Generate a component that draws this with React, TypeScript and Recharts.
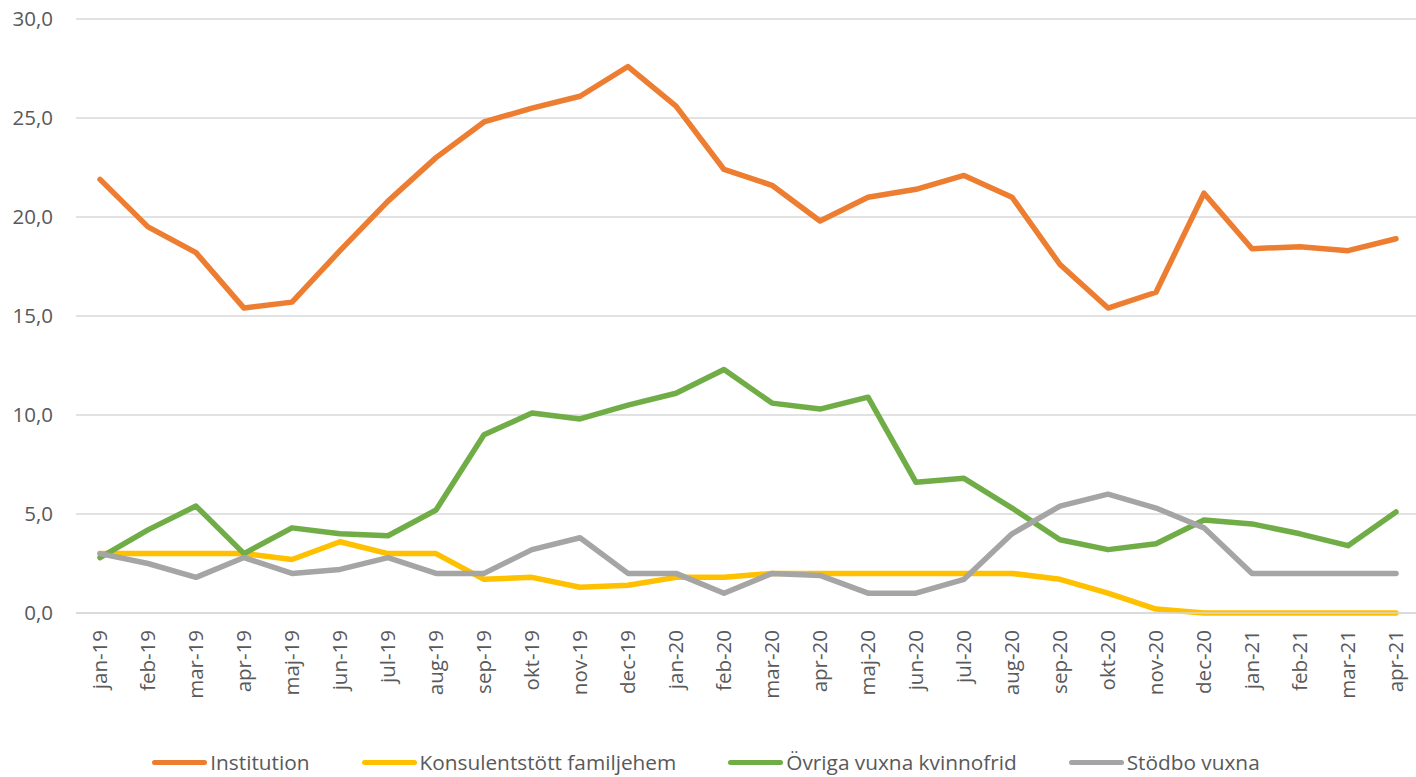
import React from 'react';
import { CartesianGrid, Legend, Line, LineChart, XAxis, YAxis } from 'recharts';

// månader jan-19 .. apr-21
const months = [
  'jan-19', 'feb-19', 'mar-19', 'apr-19', 'maj-19', 'jun-19', 'jul-19', 'aug-19', 'sep-19', 'okt-19', 'nov-19', 'dec-19',
  'jan-20', 'feb-20', 'mar-20', 'apr-20', 'maj-20', 'jun-20', 'jul-20', 'aug-20', 'sep-20', 'okt-20', 'nov-20', 'dec-20',
  'jan-21', 'feb-21', 'mar-21', 'apr-21',
];

const institution = [
  21.9, 19.5, 18.2, 15.4, 15.7, 18.3, 20.8, 23.0, 24.8, 25.5, 26.1, 27.6,
  25.6, 22.4, 21.6, 19.8, 21.0, 21.4, 22.1, 21.0, 17.6, 15.4, 16.2, 21.2,
  18.4, 18.5, 18.3, 18.9,
];
const konsulent = [
  3.0, 3.0, 3.0, 3.0, 2.7, 3.6, 3.0, 3.0, 1.7, 1.8, 1.3, 1.4,
  1.8, 1.8, 2.0, 2.0, 2.0, 2.0, 2.0, 2.0, 1.7, 1.0, 0.2, 0.0,
  0.0, 0.0, 0.0, 0.0,
];
const ovriga = [
  2.8, 4.2, 5.4, 3.0, 4.3, 4.0, 3.9, 5.2, 9.0, 10.1, 9.8, 10.5,
  11.1, 12.3, 10.6, 10.3, 10.9, 6.6, 6.8, 5.3, 3.7, 3.2, 3.5, 4.7,
  4.5, 4.0, 3.4, 5.1,
];
const stodbo = [
  3.0, 2.5, 1.8, 2.8, 2.0, 2.2, 2.8, 2.0, 2.0, 3.2, 3.8, 2.0,
  2.0, 1.0, 2.0, 1.9, 1.0, 1.0, 1.7, 4.0, 5.4, 6.0, 5.3, 4.3,
  2.0, 2.0, 2.0, 2.0,
];

const seriesNames = ['Institution', 'Konsulentstött familjehem', 'Övriga vuxna kvinnofrid', 'Stödbo vuxna'];
const yTicks = [0, 5, 10, 15, 20, 25, 30];

const data = months.map((m, i) => ({
  month: m,
  institution: institution[i],
  konsulent: konsulent[i],
  ovriga: ovriga[i],
  stodbo: stodbo[i],
}));

const FONT = '"Open Sans", sans-serif';
const TEXT = '#595959';

const XTick = (props: any) => {
  const { x, payload } = props;
  const ty = 630;
  return (
    <text
      x={x}
      y={ty}
      transform={`rotate(-90, ${x}, ${ty})`}
      textAnchor="end"
      dy="0.36em"
      fontSize={20.5}
      fontFamily={FONT}
      fill={TEXT}
    >
      {payload.value}
    </text>
  );
};

const YTick = (props: any) => {
  const { y, payload } = props;
  return (
    <text x={53} y={y} dy="0.36em" textAnchor="end" fontSize={20.5} fontFamily={FONT} fill={TEXT}>
      {payload.value.toFixed(1).replace('.', ',')}
    </text>
  );
};

const LegendBox = (props: any) => {
  const payload = [...(props.payload || [])].sort(
    (a: any, b: any) => seriesNames.indexOf(a.value) - seriesNames.indexOf(b.value)
  );
  return (
    <div style={{ display: 'flex', justifyContent: 'center', paddingTop: 10, paddingRight: 8, height: 30, alignItems: 'center' }}>
      {payload.map((p: any) => (
        <div key={p.value} style={{ display: 'flex', alignItems: 'center', margin: '0 26px' }}>
          <div style={{ width: 55, height: 5, borderRadius: 3, background: p.color, marginRight: 3 }} />
          <span style={{ fontFamily: FONT, fontSize: 20.8, color: TEXT, lineHeight: '30px' }}>{p.value}</span>
        </div>
      ))}
    </div>
  );
};

export default function App() {
  return (
    <div style={{ position: 'absolute', left: 0, top: 0, width: 1416, height: 777, overflow: 'hidden', background: '#fff' }}>
      <LineChart width={1424} height={777} data={data} margin={{ top: 19, right: 4, left: 0, bottom: 0 }}>
        <CartesianGrid vertical={false} stroke="#d9d9d9" strokeWidth={1.5} />
        <XAxis
          dataKey="month"
          interval={0}
          height={124}
          padding={{ left: 24, right: 24 }}
          axisLine={{ stroke: '#d9d9d9', strokeWidth: 1.5 }}
          tickLine={false}
          tick={<XTick />}
        />
        <YAxis
          width={76}
          domain={[0, 30]}
          ticks={yTicks}
          axisLine={false}
          tickLine={false}
          tick={<YTick />}
        />
        <Legend verticalAlign="bottom" height={40} content={<LegendBox />} />
        <Line dataKey="institution" name="Institution" stroke="#ED7D31" strokeWidth={5.5} dot={false} strokeLinecap="round" strokeLinejoin="round" isAnimationActive={false} />
        <Line dataKey="konsulent" name="Konsulentstött familjehem" stroke="#FFC000" strokeWidth={5.5} dot={false} strokeLinecap="round" strokeLinejoin="round" isAnimationActive={false} />
        <Line dataKey="ovriga" name="Övriga vuxna kvinnofrid" stroke="#70AD47" strokeWidth={5.5} dot={false} strokeLinecap="round" strokeLinejoin="round" isAnimationActive={false} />
        <Line dataKey="stodbo" name="Stödbo vuxna" stroke="#A5A5A5" strokeWidth={5.5} dot={false} strokeLinecap="round" strokeLinejoin="round" isAnimationActive={false} />
      </LineChart>
    </div>
  );
}
